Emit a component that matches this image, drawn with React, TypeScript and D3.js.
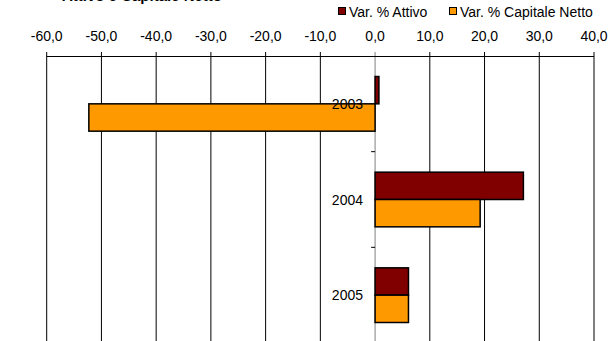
import React from "react";
import * as d3 from "d3";

const categories = ["2003", "2004", "2005"];
const seriesNames = ["Var. % Attivo", "Var. % Capitale Netto"];
const attivo = [0.7, 27.1, 6.1];
const capitaleNetto = [-52.3, 19.2, 6.1];
const xTicks = [-60, -50, -40, -30, -20, -10, 0, 10, 20, 30, 40];
const colors = ["#800000", "#FF9900"];
const title = "Attivo e Capitale Netto";

export default function App() {
  const W = 611, H = 341;
  const left = 46.7, right = 594, top = 56, bottom = 343;
  const x = d3.scaleLinear().domain([-60, 40]).range([left, right]);
  const y = d3.scaleBand<string>().domain(categories).range([top, bottom]).paddingInner(0).paddingOuter(0);
  const band = y.bandwidth();
  const bw = band / 3.5;
  const series = [attivo, capitaleNetto];
  const font = "'Liberation Sans', Arial, sans-serif";
  const fmt = (v: number) => v.toFixed(1).replace(".", ",");
  return (
    <svg width={W} height={H} style={{ position: "fixed", left: 0, top: 0, background: "#fff" }} fontFamily={font}>
      <rect width={W} height={H} fill="#fff" />
      <text x={62} y={0.5} fontSize={15} fontWeight="bold" fill="#000">{title}</text>
      {/* gridlines */}
      {xTicks.map((t) => (
        <line key={"g" + t} x1={x(t)} x2={x(t)} y1={52} y2={bottom} stroke={t === 0 ? "#808080" : "#000"} strokeWidth={1} />
      ))}
      {/* top axis */}
      <line x1={x(-60)} x2={x(40)} y1={56.5} y2={56.5} stroke="#000" strokeWidth={1} />
      {xTicks.map((t) => (
        <text key={"t" + t} x={x(t)} y={36} fontSize={14} textAnchor="middle" dominantBaseline="central" fill="#000">{fmt(t)}</text>
      ))}
      {/* category ticks */}
      {categories.slice(1).map((c) => (
        <line key={"ct" + c} x1={x(0) - 4} x2={x(0)} y1={y(c)!} y2={y(c)!} stroke="#000" strokeWidth={1} />
      ))}
      {/* bars */}
      {categories.map((c, i) =>
        series.map((s, k) => {
          const v = s[i];
          const x0 = x(Math.min(0, v));
          const x1 = x(Math.max(0, v));
          const yy = y(c)! + band / 2 - bw + k * bw;
          return (
            <rect key={c + k} x={x0} y={yy} width={Math.max(x1 - x0, 0.5)} height={bw} fill={colors[k]} stroke="#000" strokeWidth={1.5} />
          );
        })
      )}
      {/* category labels */}
      {categories.map((c) => (
        <text key={"cl" + c} x={363} y={y(c)! + band / 2} fontSize={14} textAnchor="end" dominantBaseline="central" fill="#000">{c}</text>
      ))}
      {/* legend */}
      {seriesNames.map((n, k) => {
        const lx = k === 0 ? 338 : 449;
        return (
          <g key={n}>
            <rect x={lx + 0.5} y={7.5} width={7} height={7} fill={colors[k]} stroke="#000" strokeWidth={1} />
            <text x={lx + 11} y={11.5} fontSize={14} dominantBaseline="central" fill="#000">{n}</text>
          </g>
        );
      })}
    </svg>
  );
}
